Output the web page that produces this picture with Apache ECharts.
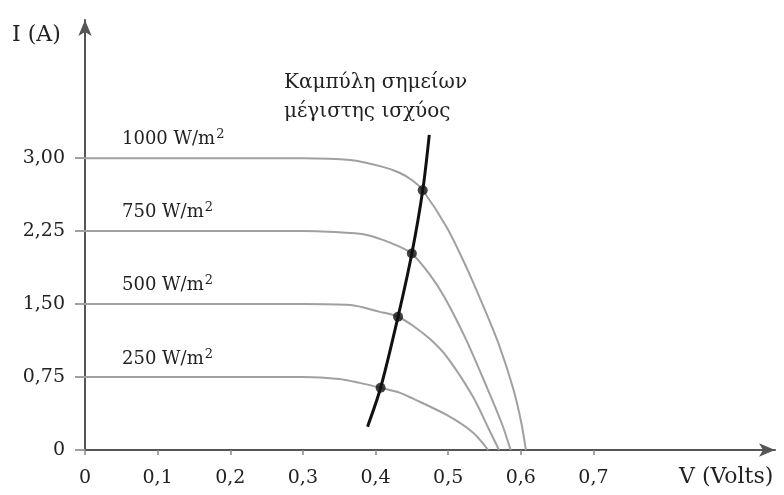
<!DOCTYPE html>
<html>
<head>
<meta charset="utf-8">
<script src="https://cdn.jsdelivr.net/npm/echarts@6/dist/echarts.min.js"></script>
<style>
  html, body { margin: 0; padding: 0; background: #fff; }
  #chart { width: 784px; height: 495px; }
</style>
</head>
<body>
<div id="chart"></div>
<script>
// Axis ticks and their labels (Greek decimal comma)
const voltTicks = [0, 0.1, 0.2, 0.3, 0.4, 0.5, 0.6, 0.7];
const voltTickLabels = ['0', '0,1', '0,2', '0,3', '0,4', '0,5', '0,6', '0,7'];
const ampTicks = [0, 0.75, 1.5, 2.25, 3];
const ampTickLabels = ['0', '0,75', '1,50', '2,25', '3,00'];

// I-V curves of the cell for each irradiance level
const irradianceLevels = ['1000', '750', '500', '250'];
const v1000 = [0, 0.1, 0.2, 0.3, 0.365, 0.41, 0.433, 0.451, 0.465, 0.498, 0.525, 0.55, 0.57, 0.59, 0.601, 0.607];
const i1000 = [3.00, 3.00, 3.00, 3.00, 2.98, 2.91, 2.85, 2.77, 2.67, 2.29, 1.88, 1.45, 1.08, 0.62, 0.27, 0];
const v750 = [0, 0.1, 0.2, 0.3, 0.365, 0.388, 0.41, 0.433, 0.45, 0.475, 0.495, 0.525, 0.553, 0.574, 0.586];
const i750 = [2.25, 2.25, 2.25, 2.25, 2.23, 2.21, 2.16, 2.09, 2.02, 1.80, 1.57, 1.13, 0.65, 0.27, 0];
const v500 = [0, 0.1, 0.2, 0.3, 0.365, 0.406, 0.431, 0.451, 0.475, 0.498, 0.534, 0.557, 0.570];
const i500 = [1.50, 1.50, 1.50, 1.50, 1.49, 1.42, 1.37, 1.28, 1.14, 0.96, 0.55, 0.20, 0];
const v250 = [0, 0.1, 0.2, 0.3, 0.35, 0.378, 0.407, 0.433, 0.451, 0.498, 0.534, 0.555];
const i250 = [0.75, 0.75, 0.75, 0.75, 0.73, 0.69, 0.64, 0.59, 0.53, 0.36, 0.18, 0];

// Maximum power points and the curve joining them
const mppV = [0.407, 0.431, 0.450, 0.465];
const mppI = [0.64, 1.37, 2.02, 2.67];
const mppLineV = [0.389, 0.407, 0.431, 0.450, 0.465, 0.474];
const mppLineI = [0.24, 0.64, 1.37, 2.02, 2.67, 3.24];

const zip = (xs, ys) => xs.map((x, k) => [x, ys[k]]);

const FONT = 'DejaVu Serif';
const TEXT = '#222';
const CURVE = '#a0a0a0';

const curveSeries = [[v1000, i1000], [v750, i750], [v500, i500], [v250, i250]].map((c, k) => ({
  name: irradianceLevels[k] + ' W/m²',
  type: 'line',
  data: zip(c[0], c[1]),
  showSymbol: false,
  smooth: 0.3,
  lineStyle: { color: CURVE, width: 2 },
  z: 2
}));

// Irradiance captions with a raised exponent
const captionTops = [128, 201, 274, 348];
const captions = irradianceLevels.map((lvl, k) => ({
  type: 'text',
  left: 122,
  top: captionTops[k],
  style: {
    text: '{t|' + lvl + ' W/m}{s|2}',
    rich: {
      t: { fontFamily: FONT, fontSize: 18, fill: TEXT, lineHeight: 22 },
      s: { fontFamily: FONT, fontSize: 13, fill: TEXT, verticalAlign: 'top', lineHeight: 22, padding: [0, 0, 0, 1] }
    }
  }
}));

const chart = echarts.init(document.getElementById('chart'), null, { renderer: 'canvas' });

chart.setOption({
  backgroundColor: '#fff',
  animation: false,
  grid: { left: 85, right: 9, top: 20, bottom: 45 },
  xAxis: {
    type: 'value',
    min: 0,
    max: 0.95,
    axisLine: {
      show: true,
      onZero: false,
      symbol: ['none', 'arrow'],
      symbolSize: [10, 16],
      lineStyle: { color: '#555', width: 2 }
    },
    axisTick: { show: true, customValues: voltTicks, length: 5, lineStyle: { color: '#888', width: 1.5 } },
    axisLabel: {
      customValues: voltTicks,
      margin: 19,
      fontFamily: FONT,
      fontSize: 19,
      color: TEXT,
      formatter: v => voltTickLabels[voltTicks.findIndex(t => Math.abs(t - v) < 1e-9)]
    },
    splitLine: { show: false }
  },
  yAxis: {
    type: 'value',
    min: 0,
    max: 4.42,
    axisLine: {
      show: true,
      onZero: false,
      symbol: ['none', 'arrow'],
      symbolSize: [10, 16],
      lineStyle: { color: '#555', width: 2 }
    },
    axisTick: { show: true, customValues: ampTicks, length: 10, lineStyle: { color: CURVE, width: 2 } },
    axisLabel: {
      customValues: ampTicks,
      margin: 20,
      fontFamily: FONT,
      fontSize: 19,
      color: TEXT,
      formatter: v => ampTickLabels[ampTicks.findIndex(t => Math.abs(t - v) < 1e-9)]
    },
    splitLine: { show: false }
  },
  series: [
    ...curveSeries,
    {
      name: 'mpp-line',
      type: 'line',
      data: zip(mppLineV, mppLineI),
      showSymbol: false,
      smooth: 0.3,
      lineStyle: { color: '#111', width: 3 },
      z: 4
    },
    {
      name: 'mpp',
      type: 'scatter',
      data: zip(mppV, mppI),
      symbol: 'circle',
      symbolSize: 10,
      itemStyle: { color: '#111' },
      z: 5
    }
  ],
  graphic: [
    { type: 'text', left: 12, top: 24, style: { text: 'I (A)', font: '22px "' + FONT + '"', fill: TEXT } },
    { type: 'text', left: 679, top: 466, style: { text: 'V (Volts)', font: '22px "' + FONT + '"', fill: TEXT } },
    { type: 'text', left: 284, top: 68, style: { text: 'Καμπύλη σημείων\nμέγιστης ισχύος', font: '20px "' + FONT + '"', fill: TEXT, lineHeight: 29 } },
    ...captions
  ]
});
</script>
</body>
</html>
